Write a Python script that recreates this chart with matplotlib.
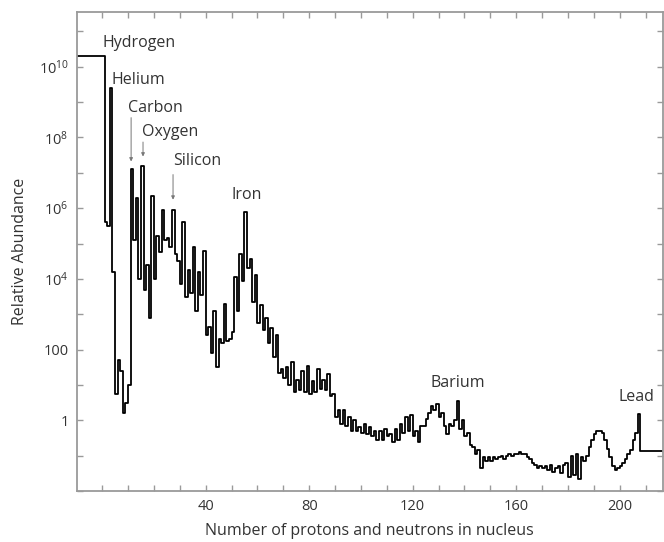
import numpy as np
import matplotlib
matplotlib.use("Agg")
import matplotlib.pyplot as plt

plt.rcParams["font.family"] = ["Open Sans", "DejaVu Sans"]
plt.rcParams["mathtext.fontset"] = "custom"
plt.rcParams["mathtext.rm"] = "Open Sans"
plt.rcParams["mathtext.it"] = "Open Sans:italic"
plt.rcParams["mathtext.bf"] = "Open Sans:bold"

# Solar-system abundance by mass number (log10, relative scale)
mass_number = np.arange(1, 210)
log_abundance = [
    10.3, 5.6, 5.5, 9.4, 4.2, 0.75, 1.7, 1.4, 0.2, 0.5,
    1.0, 7.1, 5.1, 6.3, 4.0, 7.2, 3.7, 4.4, 2.9, 6.35,
    4.0, 5.2, 4.75, 5.95, 5.1, 5.15, 4.9, 5.95, 4.7, 4.5,
    3.85, 5.6, 3.5, 4.25, 3.6, 4.9, 3.1, 4.2, 3.55, 4.8,
    2.4, 2.65, 1.9, 3.1, 1.5, 2.3, 2.2, 3.3, 2.25, 2.3,
    2.5, 4.05, 3.1, 4.7, 3.95, 5.9, 4.3, 4.55, 3.35, 4.1,
    2.75, 3.25, 2.55, 2.9, 2.2, 2.6, 1.8, 2.4, 1.35, 1.45,
    1.2, 1.5, 1.0, 1.65, 0.8, 1.15, 0.85, 1.4, 0.8, 1.55,
    0.75, 1.1, 0.8, 1.45, 0.9, 1.15, 0.85, 1.3, 0.7, 0.75,
    0.1, 0.3, -0.1, 0.3, -0.15, 0.1, -0.3, 0.0, -0.3, -0.2,
    -0.35, -0.1, -0.4, -0.2, -0.45, -0.3, -0.55, -0.3, -0.55, -0.25,
    -0.45, -0.4, -0.6, -0.25, -0.55, -0.1, -0.35, 0.1, -0.3, 0.15,
    -0.45, -0.3, -0.6, -0.15, -0.15, 0.05, 0.2, 0.4, 0.3, 0.45,
    0.1, 0.2, -0.15, -0.4, -0.1, -0.15, 0.0, 0.55, -0.25, 0.0,
    -0.45, -0.35, -0.7, -0.75, -0.95, -0.85, -1.35, -1.05, -1.15, -1.05,
    -1.15, -1.05, -1.1, -1.05, -1.0, -1.1, -1.0, -0.95, -1.0, -0.95,
    -0.95, -0.9, -0.95, -0.95, -1.05, -1.1, -1.2, -1.25, -1.35, -1.3,
    -1.35, -1.3, -1.4, -1.25, -1.45, -1.35, -1.3, -1.5, -1.25, -1.2,
    -1.6, -1.0, -1.55, -0.95, -1.65, -1.05, -1.15, -1.0, -0.75, -0.55,
    -0.4, -0.3, -0.3, -0.35, -0.55, -0.8, -1.05, -1.3, -1.4, -1.35,
    -1.3, -1.2, -1.1, -0.95, -0.85, -0.55, -0.35, 0.17, -0.87,
]
abundance = 10.0 ** np.array(log_abundance)

# Element names and where they are written (mass number, abundance)
element_names = ["Hydrogen", "Helium", "Carbon", "Oxygen", "Silicon", "Iron", "Barium", "Lead"]
name_x = [14.3, 13.9, 20.5, 26.3, 36.7, 56.0, 137.5, 206.6]
name_logy = [10.68, 9.63, 8.84, 8.16, 7.32, 6.38, 1.05, 0.65]

# Pointer arrows: (mass number, log10 start, log10 end)
pointers = [(11.2, 8.56, 7.32), (15.8, 7.87, 7.46), (27.4, 6.95, 6.24)]

x_ticks = np.arange(0, 211, 10)
x_labeled = [40, 80, 120, 160, 200]
y_decades = np.arange(-2, 12)
y_labels = {0: "1", 2: "100", 4: r"$\mathregular{10^4}$", 6: r"$\mathregular{10^6}$",
            8: r"$\mathregular{10^8}$", 10: r"$\mathregular{10^{10}}$"}

xlim = (-9.7, 216.6)
ylim = (10 ** -1.98, 10 ** 11.55)

fig = plt.figure(figsize=(6.64, 5.42), dpi=100)
ax = fig.add_axes([0.116, 0.094, 0.882, 0.884])

# Stair line, first and last bins carried out to the frame edges
x_line = np.r_[xlim[0], mass_number, xlim[1]]
y_line = np.r_[abundance[0], abundance, abundance[-1]]
ax.step(x_line, y_line, where="pre", color="black", lw=1.3)

ax.set_yscale("log")
ax.set_xlim(*xlim)
ax.set_ylim(*ylim)

ax.set_xticks(x_ticks)
ax.set_xticklabels([str(t) if t in x_labeled else "" for t in x_ticks])
ax.set_yticks(10.0 ** y_decades)
ax.set_yticklabels([y_labels.get(int(d), "") for d in y_decades])
ax.yaxis.set_minor_locator(plt.NullLocator())
ax.xaxis.set_minor_locator(plt.NullLocator())

spine_col = "#9a9a9a"
for s in ax.spines.values():
    s.set_color(spine_col)
    s.set_linewidth(1.3)
ax.tick_params(which="both", direction="in", top=True, right=True,
               length=4, width=1.0, color=spine_col, labelcolor="#333333",
               labelsize=10.5, pad=6)

ax.set_xlabel("Number of protons and neutrons in nucleus", fontsize=11.5, color="#333333", labelpad=6)
ax.set_ylabel("Relative Abundance", fontsize=11.5, color="#333333", labelpad=8)

for name, nx, ny in zip(element_names, name_x, name_logy):
    ax.text(nx, 10 ** ny, name, ha="center", va="center", fontsize=11.5, color="#333333")

for px, y0, y1 in pointers:
    ax.annotate("", xy=(px, 10 ** y1), xytext=(px, 10 ** y0),
                arrowprops=dict(arrowstyle="-|>", color="#777777", lw=0.7,
                                mutation_scale=5, shrinkA=0, shrinkB=0))

fig.savefig("out.png", dpi=100, facecolor="white")
